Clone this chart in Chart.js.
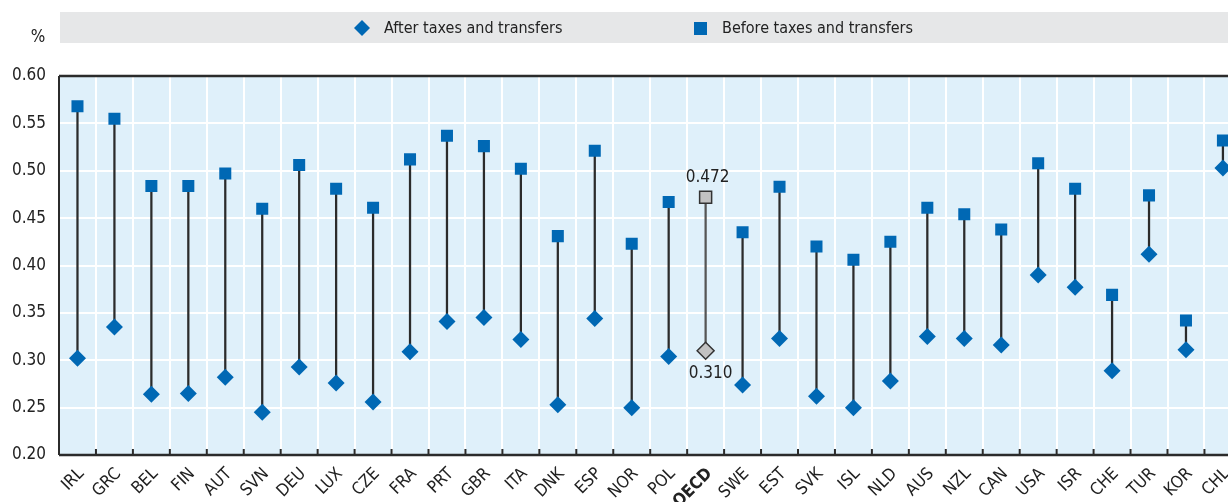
<!DOCTYPE html>
<html>
<head>
<meta charset="utf-8">
<script src="https://cdn.jsdelivr.net/npm/chart.js@4"></script>
<style>
  html, body { margin: 0; padding: 0; background: #fff; overflow: hidden; }
  #wrap { width: 1250px; height: 502px; position: relative; }
</style>
</head>
<body>
<div id="wrap"><canvas id="myChart"></canvas></div>
<script>
// data (Gini-like coefficient, share)
const countries = ['IRL', 'GRC', 'BEL', 'FIN', 'AUT', 'SVN', 'DEU', 'LUX', 'CZE', 'FRA', 'PRT', 'GBR', 'ITA', 'DNK', 'ESP', 'NOR',
    'POL', 'OECD', 'SWE', 'EST', 'SVK', 'ISL', 'NLD', 'AUS', 'NZL', 'CAN', 'USA', 'ISR', 'CHE', 'TUR', 'KOR', 'CHL'];
const beforeTaxes = [0.568, 0.555, 0.484, 0.484, 0.497, 0.460, 0.506, 0.481, 0.461, 0.512, 0.537, 0.526, 0.502, 0.431, 0.521, 0.423,
    0.467, 0.472, 0.435, 0.483, 0.420, 0.406, 0.425, 0.461, 0.454, 0.438, 0.508, 0.481, 0.369, 0.474, 0.342, 0.532];
const afterTaxes = [0.302, 0.335, 0.264, 0.265, 0.282, 0.245, 0.293, 0.276, 0.256, 0.309, 0.341, 0.345, 0.322, 0.253, 0.344, 0.250,
    0.304, 0.310, 0.274, 0.323, 0.262, 0.250, 0.278, 0.325, 0.323, 0.316, 0.390, 0.377, 0.289, 0.412, 0.311, 0.503];
const yTicks = [0.20, 0.25, 0.30, 0.35, 0.40, 0.45, 0.50, 0.55, 0.60];

const BLUE = '#0068b4';
const GREY = '#c2c2c2';
const DARK = '#2b2b2b';
const FONT = "'Liberation Sans Narrow', 'DejaVu Sans Condensed', Arial, sans-serif";

Chart.defaults.font.family = FONT;
Chart.defaults.font.size = 17;
Chart.defaults.color = '#222';

const isOecd = countries.map(c => c === 'OECD');
const fillCols = isOecd.map(o => o ? GREY : BLUE);
const lineCols = isOecd.map(o => o ? '#333' : BLUE);
const lineWidths = isOecd.map(o => o ? 1.5 : 0);

// background, legend band, frame
const decorations = {
    id: 'decorations',
    beforeDraw(chart) {
        const c = chart.ctx, a = chart.chartArea;
        c.save();
        c.fillStyle = '#dff0fa';
        c.fillRect(a.left, a.top, a.right - a.left, a.bottom - a.top);

        // legend band
        c.fillStyle = '#e6e7e8';
        c.fillRect(60, 12, chart.width - 60, 31);
        c.fillStyle = BLUE;
        c.beginPath();
        c.moveTo(362, 20); c.lineTo(370, 28); c.lineTo(362, 36); c.lineTo(354, 28);
        c.closePath(); c.fill();
        c.fillRect(694, 22, 13, 13);
        c.fillStyle = '#222';
        c.font = '16px ' + FONT;
        c.textBaseline = 'middle';
        c.textAlign = 'left';
        c.fillText('After taxes and transfers', 384, 29);
        c.fillText('Before taxes and transfers', 722, 29);
        c.textAlign = 'center';
        c.font = '17px ' + FONT;
        c.fillText('%', 38, 38);
        c.restore();
    },
    beforeDatasetsDraw(chart) {
        const c = chart.ctx, a = chart.chartArea;
        const x = chart.scales.x;
        c.save();
        c.strokeStyle = DARK;
        c.lineWidth = 2.5;
        c.beginPath();
        c.moveTo(a.left, a.top); c.lineTo(a.right, a.top);
        c.moveTo(a.left, a.bottom); c.lineTo(a.right, a.bottom);
        c.stroke();
        c.lineWidth = 2;
        c.beginPath();
        c.moveTo(a.left, a.top); c.lineTo(a.left, a.bottom);
        c.stroke();
        // small ticks between categories
        c.beginPath();
        for (let i = 1; i < countries.length; i++) {
            const px = (x.getPixelForValue(i - 1) + x.getPixelForValue(i)) / 2;
            c.moveTo(px, a.bottom); c.lineTo(px, a.bottom - 6);
        }
        c.stroke();
        c.restore();
    },
    afterDatasetsDraw(chart) {
        const c = chart.ctx;
        const i = countries.indexOf('OECD');
        const px = chart.scales.x.getPixelForValue(i);
        const y = chart.scales.y;
        c.save();
        c.fillStyle = '#222';
        c.font = '17px ' + FONT;
        c.textAlign = 'center';
        c.textBaseline = 'middle';
        c.fillText(beforeTaxes[i].toFixed(3), px + 2, y.getPixelForValue(beforeTaxes[i]) - 20);
        c.fillText(afterTaxes[i].toFixed(3), px + 5, y.getPixelForValue(afterTaxes[i]) + 23);
        c.restore();
    }
};

new Chart(document.getElementById('myChart'), {
    type: 'bar',
    data: {
        labels: countries,
        datasets: [{
            type: 'line',
            label: 'After taxes and transfers',
            data: afterTaxes,
            showLine: false,
            pointStyle: 'rectRot',
            pointRadius: 8.5,
            pointBackgroundColor: fillCols,
            pointBorderColor: lineCols,
            pointBorderWidth: lineWidths,
            order: 1
        }, {
            type: 'line',
            label: 'Before taxes and transfers',
            data: beforeTaxes,
            showLine: false,
            pointStyle: 'rect',
            pointRadius: 8.5,
            pointBackgroundColor: fillCols,
            pointBorderColor: lineCols,
            pointBorderWidth: lineWidths,
            order: 2
        }, {
            type: 'bar',
            label: 'range',
            data: afterTaxes.map((v, i) => [v, beforeTaxes[i]]),
            backgroundColor: isOecd.map(o => o ? '#555' : DARK),
            barThickness: 1.6,
            order: 3
        }]
    },
    options: {
        responsive: true,
        maintainAspectRatio: false,
        animation: false,
        events: [],
        layout: { padding: { top: 76, left: 0, right: 8.6, bottom: 0 } },
        plugins: {
            legend: { display: false },
            tooltip: { enabled: false }
        },
        scales: {
            x: {
                offset: true,
                grid: { color: ctx => ctx.index === 0 ? 'rgba(0,0,0,0)' : '#fff', lineWidth: 2, drawTicks: false },
                border: { display: false },
                ticks: {
                    autoSkip: false,
                    maxRotation: 45,
                    minRotation: 45,
                    padding: 9,
                    labelOffset: 4,
                    font: ctx => ({ family: FONT, size: 17, weight: ctx.tick && ctx.tick.label === 'OECD' ? 'bold' : 'normal' })
                },
                afterFit(scale) { scale.height = 47; }
            },
            y: {
                min: 0.2,
                max: 0.6,
                afterBuildTicks(scale) { scale.ticks = yTicks.map(v => ({ value: v })); },
                grid: { color: '#fff', lineWidth: 2, drawTicks: false },
                border: { display: false },
                ticks: { padding: 13, callback: v => v.toFixed(2) },
                afterFit(scale) { scale.width = 59; }
            }
        }
    },
    plugins: [decorations]
});
</script>
</body>
</html>
